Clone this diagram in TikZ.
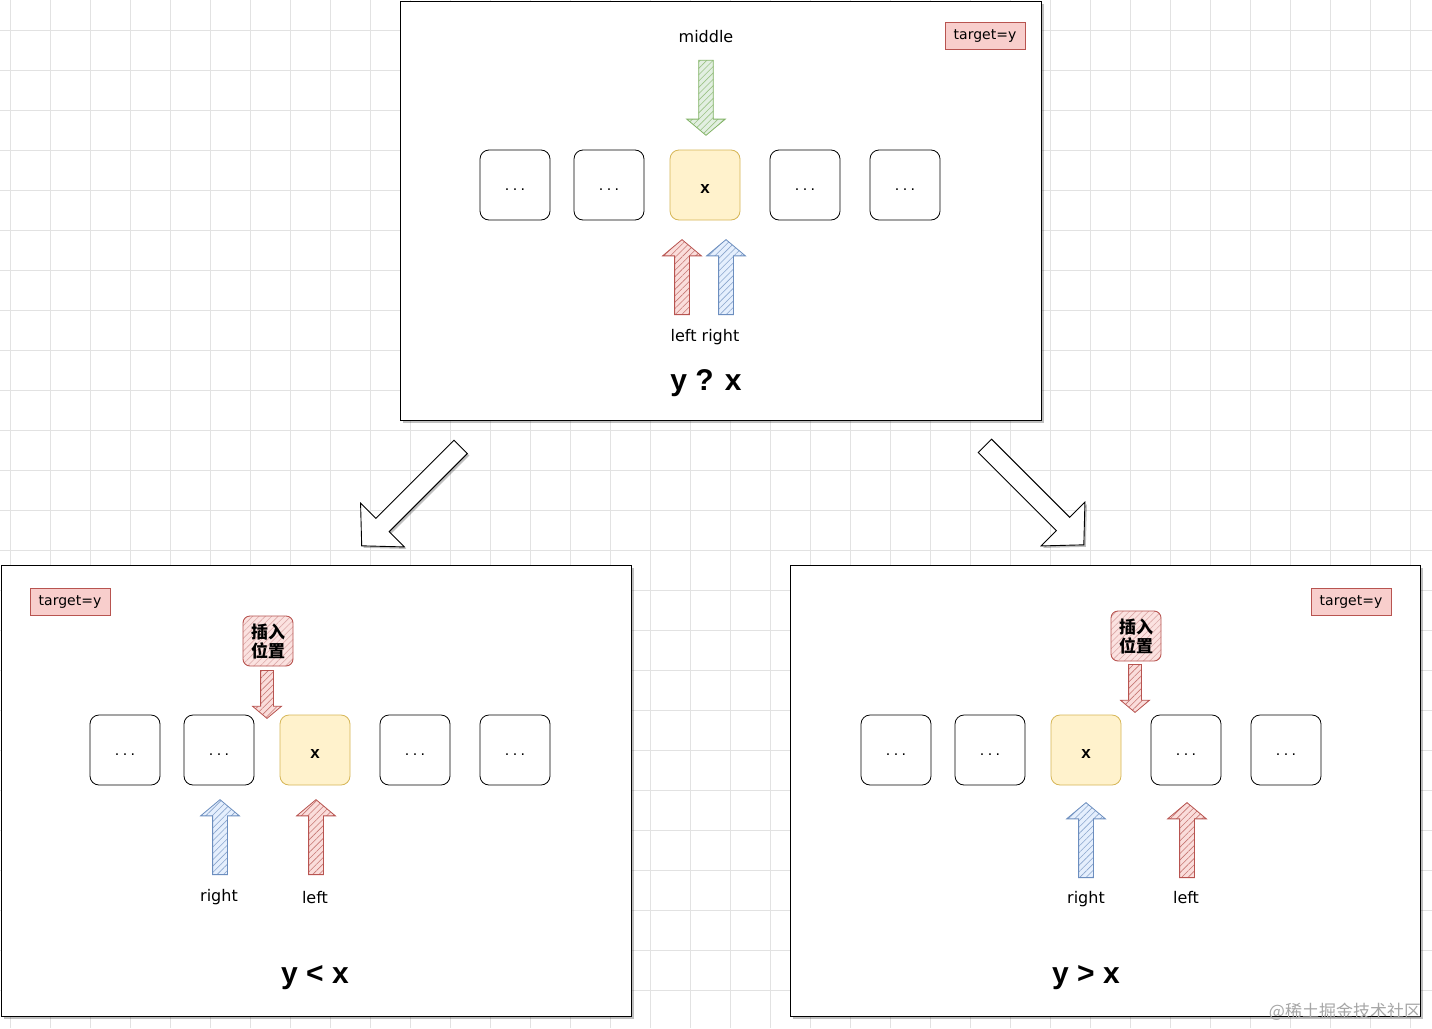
\documentclass[tikz,border=0pt]{standalone}
\usepackage{fontspec}
\setmainfont{Liberation Sans}
\newfontfamily\handfont{DejaVu Sans}
\newfontfamily\cjkfont{Noto Sans CJK SC}
\usetikzlibrary{shapes.arrows,patterns.meta,shadows}
\definecolor{redD}{HTML}{B85450}
\definecolor{redF}{HTML}{F8CECC}
\definecolor{blueD}{HTML}{6C8EBF}
\definecolor{blueF}{HTML}{DAE8FC}
\definecolor{greenD}{HTML}{82B366}
\definecolor{greenF}{HTML}{D5E8D4}
\definecolor{yelD}{HTML}{D6B656}
\definecolor{yelF}{HTML}{FFF2CC}
\definecolor{gridc}{HTML}{E2E2E2}
\newcommand{\dotsx}{\raisebox{-5pt}[0pt][0pt]{.\hspace{3.5pt}.\hspace{3.5pt}.}}
\newcommand{\xmark}{\raisebox{-8pt}[0pt][0pt]{x}}
\tikzset{
  panel/.style={draw=black, line width=0.9pt, fill=white, inner sep=0pt, anchor=north west,
    drop shadow={shadow xshift=3pt, shadow yshift=-3pt, opacity=0.25, fill=black}},
  cell/.style={draw=black, line width=0.8pt, rounded corners=9pt, minimum size=70pt, inner sep=0pt,
    fill=white, font=\fontsize{16}{16}\selectfont},
  xcell/.style={cell, draw=yelD, fill=yelF, font=\bfseries\fontsize{17}{17}\selectfont},
  tbox/.style={draw=redD, fill=redF, line width=0.8pt, minimum width=80pt, minimum height=27pt,
    inner sep=0pt, font=\handfont\fontsize{14}{14}\selectfont},
  lbl/.style={font=\handfont\fontsize{16}{16}\selectfont, inner sep=0pt},
  cmp/.style={font=\bfseries\fontsize{30}{30}\selectfont, inner sep=0pt},
  harrow/.style 2 args={single arrow, draw=#1, line width=0.8pt, preaction={fill=#2!70},
    pattern={Lines[angle=45,distance=4.5pt,line width=0.6pt]}, pattern color=#1!80,
    inner sep=7pt, single arrow head extend=12pt, single arrow tip angle=100,
    minimum height=75pt, anchor=tail},
  uparr/.style={shape border rotate=90},
  downarr/.style={shape border rotate=270},
  smallarr/.style={inner sep=6pt, single arrow head extend=8pt, minimum height=48pt},
  ins/.style={draw=redD, line width=0.9pt, rounded corners=7pt, preaction={fill=redF!60},
    pattern={Lines[angle=45,distance=4.5pt,line width=0.6pt]}, pattern color=redD!50,
    minimum size=50pt, inner sep=2pt, align=center,
    font=\cjkfont\bfseries\fontsize{17}{19}\selectfont},
  bigarr/.style={single arrow, draw=black, line width=0.9pt, fill=white, inner sep=9pt,
    single arrow head extend=21.5pt, single arrow tip angle=93, minimum height=140pt,
    anchor=tail, drop shadow={shadow xshift=2pt, shadow yshift=-2pt, opacity=0.25, fill=black}},
}
\begin{document}
\begin{tikzpicture}[x=1pt,y=-1pt]
\useasboundingbox (0,0) rectangle (1432,1028);
\fill[white] (0,0) rectangle (1432,1028);
\foreach \gx in {10,50,...,1430} \draw[gridc, line width=0.7pt] (\gx,0) -- (\gx,1028);
\foreach \gy in {30,70,...,1010} \draw[gridc, line width=0.7pt] (0,\gy) -- (1432,\gy);

% ---------- top panel ----------
\node[panel, minimum width=641pt, minimum height=419pt] (ptop) at (400,1) {};
\node[lbl] (mid) at (706,37) {middle};
\node[tbox] (tgt1) at (985,36) {target=y};
\node[cell] (t1) at (515,185) {\dotsx};
\node[cell] (t2) at (609,185) {\dotsx};
\node[xcell] (t3) at (705,185) {\xmark};
\node[cell] (t4) at (805,185) {\dotsx};
\node[cell] (t5) at (905,185) {\dotsx};
\node[harrow={greenD}{greenF}, downarr] (amid) at (706,60) {};
\node[harrow={redD}{redF}, uparr] (aleft1) at (682,315) {};
\node[harrow={blueD}{blueF}, uparr] (aright1) at (726,315) {};
\node[lbl] (lr1) at (705,337) {left right};
\node[cmp] (c1) at (706,383) {y ? x};

% ---------- transition arrows ----------
\node[bigarr, rotate=225] (bl) at (461,446.5) {};
\node[bigarr, rotate=315] (br) at (984.5,445.5) {};

% ---------- bottom left panel ----------
\node[panel, minimum width=630pt, minimum height=451pt] (pleft) at (1,565) {};
\node[tbox] (tgt2) at (70,602) {target=y};
\node[ins] (ins2) at (268,641) {插入\\位置};
\node[harrow={redD}{redF}, downarr, smallarr] (ains2) at (267,670) {};
\node[cell] (l1) at (125,750) {\dotsx};
\node[cell] (l2) at (219,750) {\dotsx};
\node[xcell] (l3) at (315,750) {\xmark};
\node[cell] (l4) at (415,750) {\dotsx};
\node[cell] (l5) at (515,750) {\dotsx};
\node[harrow={blueD}{blueF}, uparr] (aright2) at (220,875) {};
\node[harrow={redD}{redF}, uparr] (aleft2) at (316,875) {};
\node[lbl] (r2) at (219,897) {right};
\node[lbl] (le2) at (315,898) {left};
\node[cmp] (c2) at (315,978) {y < x};

% ---------- bottom right panel ----------
\node[panel, minimum width=630pt, minimum height=451pt] (pright) at (790,565) {};
\node[tbox] (tgt3) at (1351,602) {target=y};
\node[ins] (ins3) at (1136,636) {插入\\位置};
\node[harrow={redD}{redF}, downarr, smallarr] (ains3) at (1135,664) {};
\node[cell] (r1) at (896,750) {\dotsx};
\node[cell] (r2c) at (990,750) {\dotsx};
\node[xcell] (r3) at (1086,750) {\xmark};
\node[cell] (r4) at (1186,750) {\dotsx};
\node[cell] (r5) at (1286,750) {\dotsx};
\node[harrow={blueD}{blueF}, uparr] (aright3) at (1086,878) {};
\node[harrow={redD}{redF}, uparr] (aleft3) at (1187,878) {};
\node[lbl] (r3l) at (1086,899) {right};
\node[lbl] (le3) at (1186,898) {left};
\node[cmp] (c3) at (1086,978) {y > x};

\node[font=\cjkfont\fontsize{17}{17}\selectfont, text=black!35, inner sep=0pt] (wm) at (1345,1012) {@稀土掘金技术社区};
\end{tikzpicture}
\end{document}
